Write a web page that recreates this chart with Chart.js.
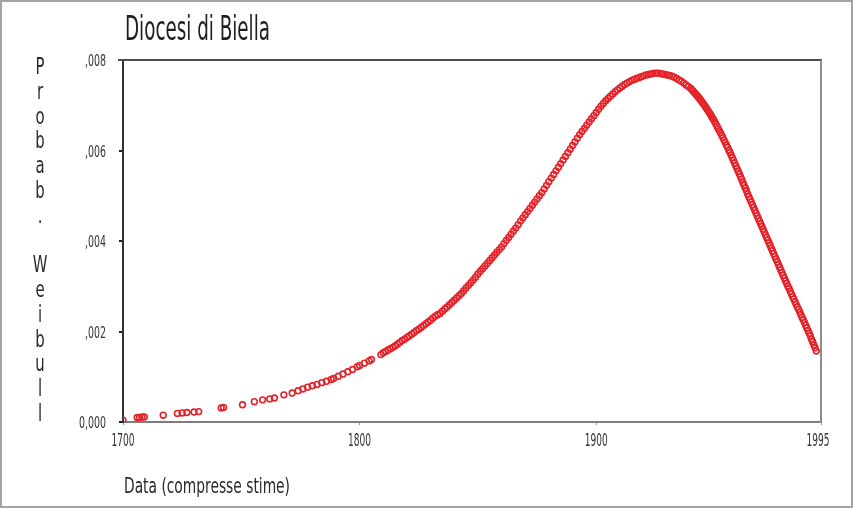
<!DOCTYPE html>
<html>
<head>
<meta charset="utf-8">
<title>Diocesi di Biella</title>
<script src="https://cdn.jsdelivr.net/npm/chart.js@4/dist/chart.umd.min.js"></script>
<style>
  html, body { margin: 0; padding: 0; background: #ffffff; }
  #wrap { width: 853px; height: 508px; position: relative; }
</style>
</head>
<body>
<div id="wrap"><canvas id="chart" width="853" height="508"></canvas></div>
<script>
// ---- texts ----
const chartTitle = 'Diocesi di Biella';
const yAxisTitle = 'Probab. Weibull';
const xAxisTitle = 'Data (compresse stime)';

// ---- axis ticks ----
const xTickValues = [1700, 1800, 1900, 1995];
const xTickLabels = ['1700', '1800', '1900', '1995'];
const yTickValues = [0, 0.002, 0.004, 0.006, 0.008];
const yTickLabels = ['0,000', ',002', ',004', ',006', ',008'];

// ---- Weibull probability by date: early, sparse records (1700-1833) ----
const sparseYears = [
  1700, 1706, 1707, 1708, 1709, 1717, 1723, 1725, 1727, 1730, 1732,
  1741.5, 1742.5, 1750.5, 1755.5, 1759, 1762, 1764, 1768,
  1771.5, 1774, 1776, 1778, 1780, 1782, 1784, 1786, 1788, 1789,
  1791, 1793, 1795, 1797, 1799, 1800, 1802, 1804, 1805,
  1809, 1810, 1811, 1812, 1813, 1814, 1815, 1816, 1817, 1818, 1819, 1820,
  1821, 1822, 1823, 1824, 1825, 1826, 1827, 1828, 1829, 1830, 1831, 1832, 1833
];
const sparseProb = [
  0.00004, 0.0001, 0.0001, 0.00011, 0.00011, 0.00015, 0.00019, 0.0002, 0.00021, 0.00022, 0.00023,
  0.00031, 0.00032, 0.00038, 0.00045, 0.00049, 0.00051, 0.00053, 0.0006,
  0.00064, 0.00069, 0.00073, 0.00077, 0.0008, 0.00083, 0.00087, 0.0009, 0.00094, 0.00096,
  0.00101, 0.00106, 0.00111, 0.00116, 0.00122, 0.00125, 0.0013, 0.00135, 0.00138,
  0.00149, 0.00153, 0.00156, 0.00159, 0.00162, 0.00165, 0.00168, 0.00172, 0.00176, 0.0018, 0.00183, 0.00187,
  0.0019, 0.00194, 0.00198, 0.00202, 0.00205, 0.00209, 0.00213, 0.00217, 0.00221, 0.00225, 0.0023, 0.00234, 0.00237
];

// ---- yearly records (1834-1993) ----
const yearlyYears = [
  1834, 1835, 1836, 1837, 1838, 1839, 1840, 1841, 1842, 1843,
  1844, 1845, 1846, 1847, 1848, 1849, 1850, 1851, 1852, 1853,
  1854, 1855, 1856, 1857, 1858, 1859, 1860, 1861, 1862, 1863,
  1864, 1865, 1866, 1867, 1868, 1869, 1870, 1871, 1872, 1873,
  1874, 1875, 1876, 1877, 1878, 1879, 1880, 1881, 1882, 1883,
  1884, 1885, 1886, 1887, 1888, 1889, 1890, 1891, 1892, 1893,
  1894, 1895, 1896, 1897, 1898, 1899, 1900, 1901, 1902, 1903,
  1904, 1905, 1906, 1907, 1908, 1909, 1910, 1911, 1912, 1913,
  1914, 1915, 1916, 1917, 1918, 1919, 1920, 1921, 1922, 1923,
  1924, 1925, 1926, 1927, 1928, 1929, 1930, 1931, 1932, 1933,
  1934, 1935, 1936, 1937, 1938, 1939, 1940, 1941, 1942, 1943,
  1944, 1945, 1946, 1947, 1948, 1949, 1950, 1951, 1952, 1953,
  1954, 1955, 1956, 1957, 1958, 1959, 1960, 1961, 1962, 1963,
  1964, 1965, 1966, 1967, 1968, 1969, 1970, 1971, 1972, 1973,
  1974, 1975, 1976, 1977, 1978, 1979, 1980, 1981, 1982, 1983,
  1984, 1985, 1986, 1987, 1988, 1989, 1990, 1991, 1992, 1993
];
const yearlyProb = [
  0.00240, 0.00245, 0.00250, 0.00254, 0.00259, 0.00264, 0.00269, 0.00274, 0.00279, 0.00284,
  0.00290, 0.00296, 0.00302, 0.00308, 0.00314, 0.00320, 0.00327, 0.00333, 0.00339, 0.00345,
  0.00351, 0.00357, 0.00363, 0.00369, 0.00375, 0.00381, 0.00387, 0.00394, 0.00401, 0.00408,
  0.00415, 0.00422, 0.00429, 0.00436, 0.00444, 0.00451, 0.00458, 0.00465, 0.00472, 0.00479,
  0.00486, 0.00493, 0.00500, 0.00507, 0.00515, 0.00523, 0.00531, 0.00539, 0.00547, 0.00555,
  0.00563, 0.00571, 0.00579, 0.00587, 0.00595, 0.00603, 0.00611, 0.00619, 0.00627, 0.00635,
  0.00642, 0.00649, 0.00656, 0.00663, 0.00670, 0.00677, 0.00684, 0.00691, 0.00698, 0.00704,
  0.00710, 0.00715, 0.00720, 0.00725, 0.00730, 0.00734, 0.00738, 0.00742, 0.00746, 0.00749,
  0.00752, 0.00755, 0.00757, 0.00759, 0.00761, 0.00763, 0.00765, 0.00767, 0.00768, 0.00769,
  0.00770, 0.00771, 0.00771, 0.00770, 0.00769, 0.00768, 0.00767, 0.00766, 0.00764, 0.00762,
  0.00759, 0.00756, 0.00753, 0.00749, 0.00745, 0.00741, 0.00737, 0.00731, 0.00725, 0.00719,
  0.00712, 0.00705, 0.00698, 0.00690, 0.00682, 0.00673, 0.00664, 0.00654, 0.00644, 0.00634,
  0.00623, 0.00612, 0.00601, 0.00590, 0.00578, 0.00566, 0.00554, 0.00542, 0.00529, 0.00517,
  0.00504, 0.00492, 0.00480, 0.00468, 0.00456, 0.00444, 0.00432, 0.00420, 0.00408, 0.00396,
  0.00384, 0.00372, 0.00360, 0.00348, 0.00336, 0.00324, 0.00312, 0.00300, 0.00289, 0.00277,
  0.00266, 0.00254, 0.00243, 0.00231, 0.00220, 0.00208, 0.00196, 0.00183, 0.00170, 0.00157
];

// ---- mid-year records in the declining tail (1940.5-1992.5) ----
const midYears = [
  1940.5, 1941.5, 1942.5, 1943.5, 1944.5, 1945.5, 1946.5, 1947.5, 1948.5, 1949.5,
  1950.5, 1951.5, 1952.5, 1953.5, 1954.5, 1955.5, 1956.5, 1957.5, 1958.5, 1959.5,
  1960.5, 1961.5, 1962.5, 1963.5, 1964.5, 1965.5, 1966.5, 1967.5, 1968.5, 1969.5,
  1970.5, 1971.5, 1972.5, 1973.5, 1974.5, 1975.5, 1976.5, 1977.5, 1978.5, 1979.5,
  1980.5, 1981.5, 1982.5, 1983.5, 1984.5, 1985.5, 1986.5, 1987.5, 1988.5, 1989.5,
  1990.5, 1991.5, 1992.5
];
const midProb = [
  0.00734, 0.00728, 0.00722, 0.00716, 0.00709, 0.00702, 0.00694, 0.00686, 0.00678, 0.00669,
  0.00659, 0.00649, 0.00639, 0.00629, 0.00618, 0.00607, 0.00596, 0.00584, 0.00572, 0.00560,
  0.00548, 0.00536, 0.00523, 0.00511, 0.00498, 0.00486, 0.00474, 0.00462, 0.00450, 0.00438,
  0.00426, 0.00414, 0.00402, 0.00390, 0.00378, 0.00366, 0.00354, 0.00342, 0.00330, 0.00318,
  0.00306, 0.00295, 0.00283, 0.00272, 0.00260, 0.00249, 0.00237, 0.00226, 0.00214, 0.00202,
  0.00190, 0.00177, 0.00164
];

// ---- build the point list ----
function toPoints(xs, ys) {
  return xs.map((x, i) => ({ x: x, y: ys[i] }));
}
const points = []
  .concat(toPoints(sparseYears, sparseProb))
  .concat(toPoints(yearlyYears, yearlyProb))
  .concat(toPoints(midYears, midProb));

// ---- styling ----
const FONT = "'Liberation Sans Narrow', 'DejaVu Sans Condensed', 'Liberation Sans', sans-serif";
const MARK_RED = '#e5222a';

// draw a string squeezed horizontally by factor sx, anchored by align
function drawScaled(ctx, text, x, y, sx, font, color, align) {
  ctx.save();
  ctx.font = font;
  ctx.fillStyle = color;
  ctx.textBaseline = 'alphabetic';
  ctx.textAlign = 'left';
  const w = ctx.measureText(text).width * sx;
  let x0 = x;
  if (align === 'center') x0 = x - w / 2;
  else if (align === 'right') x0 = x - w;
  ctx.translate(x0, y);
  ctx.scale(sx, 1);
  ctx.fillText(text, 0, 0);
  ctx.restore();
}
// horizontal factor that brings a sample string to a target width
function fitFactor(ctx, sample, width, font) {
  ctx.save();
  ctx.font = font;
  const w = ctx.measureText(sample).width;
  ctx.restore();
  return width / w;
}

const framePlugin = {
  id: 'frameAndTitles',
  beforeDraw(chart) {
    const ctx = chart.ctx;
    ctx.save();
    ctx.fillStyle = '#ffffff';
    ctx.fillRect(0, 0, chart.width, chart.height);
    ctx.restore();
  },
  afterDraw(chart) {
    const { ctx, chartArea: a } = chart;
    const xs = chart.scales.x, ys = chart.scales.y;
    ctx.save();
    // top and right edges of the plot box
    ctx.lineWidth = 2;
    ctx.strokeStyle = '#4e4e4e';
    ctx.beginPath();
    ctx.moveTo(a.left - 5, a.top);
    ctx.lineTo(a.right + 1, a.top);
    ctx.stroke();
    ctx.strokeStyle = '#8c8c8c';
    ctx.beginPath();
    ctx.moveTo(a.right, a.top);
    ctx.lineTo(a.right, a.bottom + 1);
    ctx.stroke();
    // outer frame of the picture
    ctx.strokeStyle = '#a3a3a3';
    ctx.lineWidth = 2;
    ctx.strokeRect(1, 1, chart.width - 2, chart.height - 2);
    ctx.restore();

    // tick labels, condensed
    const tickFont = '17px ' + FONT;
    const kx = fitFactor(ctx, '1700', 23, tickFont);
    xTickValues.forEach((v, i) => {
      drawScaled(ctx, xTickLabels[i], xs.getPixelForValue(v) - (i === xTickValues.length - 1 ? 3 : 0), 446, kx, tickFont, '#333333', 'center');
    });
    const yFont = '15px ' + FONT;
    const ky = fitFactor(ctx, ',008', 21, yFont);
    yTickValues.forEach((v, i) => {
      drawScaled(ctx, yTickLabels[i], 106, ys.getPixelForValue(v) + 6, ky, yFont, '#333333', 'right');
    });

    // chart title and x axis title
    const tf = '34px ' + FONT;
    drawScaled(ctx, chartTitle, 125, 40, fitFactor(ctx, chartTitle, 145, tf), tf, '#1f1f1f', 'left');
    const xf = '21px ' + FONT;
    drawScaled(ctx, xAxisTitle, 124, 493, fitFactor(ctx, xAxisTitle, 166, xf), xf, '#2a2a2a', 'left');

    // y axis title, one upright letter per line
    const lf = '23px ' + FONT;
    const letters = Array.from(yAxisTitle);
    const firstBase = 74, lastBase = 421;
    const step = (lastBase - firstBase) / (letters.length - 1);
    letters.forEach((ch, i) => {
      if (ch !== ' ') drawScaled(ctx, ch, 40, firstBase + i * step, 0.72, lf, '#2a2a2a', 'center');
    });
  }
};

const ctx = document.getElementById('chart').getContext('2d');
new Chart(ctx, {
  type: 'scatter',
  data: {
    datasets: [{
      label: yAxisTitle,
      data: points,
      showLine: false,
      pointStyle: 'circle',
      pointRadius: 2.9,
      pointBorderWidth: 1.6,
      pointBorderColor: MARK_RED,
      pointBackgroundColor: 'rgba(255,255,255,0)',
      pointHoverRadius: 2.9
    }]
  },
  options: {
    responsive: false,
    animation: false,
    devicePixelRatio: 1,
    layout: { padding: { top: 60, right: 32, left: 0, bottom: 0 } },
    plugins: {
      legend: { display: false },
      title: { display: false },
      tooltip: { enabled: false }
    },
    scales: {
      x: {
        type: 'linear',
        min: 1700,
        max: 1995,
        afterBuildTicks(axis) {
          axis.ticks = xTickValues.map(v => ({ value: v }));
        },
        afterFit(scale) { scale.height = 86; },
        grid: {
          drawOnChartArea: false,
          drawTicks: true,
          tickLength: 3,
          color: '#9a9a9a',
          lineWidth: 1
        },
        border: { display: true, color: '#7d7d7d', width: 2 },
        ticks: { display: false, autoSkip: false }
      },
      y: {
        type: 'linear',
        min: 0,
        max: 0.008,
        afterBuildTicks(axis) {
          axis.ticks = yTickValues.map(v => ({ value: v }));
        },
        afterFit(scale) { scale.width = 123; },
        grid: {
          drawOnChartArea: false,
          drawTicks: true,
          tickLength: 4,
          color: '#222222',
          lineWidth: 2
        },
        border: { display: true, color: '#333333', width: 2 },
        ticks: { display: false, autoSkip: false }
      }
    }
  },
  plugins: [framePlugin]
});
</script>
</body>
</html>
